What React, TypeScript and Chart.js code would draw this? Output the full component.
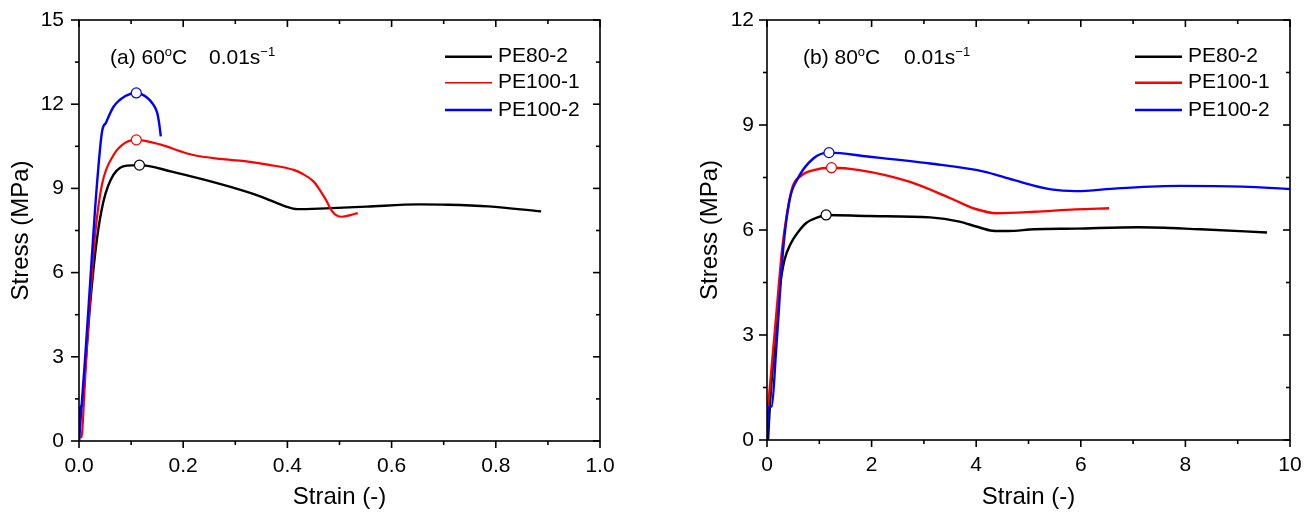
import React, { useEffect, useRef } from "react";
import { Chart, registerables } from "chart.js";

Chart.register(...registerables);

type Pt = [number, number];

// ---------- shared ----------
const seriesLabels = ["PE80-2", "PE100-1", "PE100-2"];
const seriesColors = ["#000000", "#ff0000", "#0000ff"];

// ---------- panel (a): 60°C, 0.01 s^-1 ----------
const aPE80_2: Pt[] = [
  [0, 0], [0.002, 1.15], [0.006, 1.28], [0.012, 2.6], [0.021, 4.79], [0.034, 7.13],
  [0.047, 8.54], [0.066, 9.48], [0.092, 9.81], [0.116, 9.83], [0.178, 9.6],
  [0.24, 9.31], [0.302, 8.99], [0.349, 8.71], [0.396, 8.36], [0.419, 8.26],
  [0.474, 8.29], [0.552, 8.35], [0.653, 8.43], [0.708, 8.42], [0.786, 8.36], [0.887, 8.18],
];
const aPE100_1: Pt[] = [
  [0.004, 0.1], [0.006, 0.3], [0.01, 1.6], [0.0148, 3.26], [0.0213, 5.02], [0.031, 7.37],
  [0.044, 9.13], [0.066, 10.18], [0.089, 10.63], [0.11, 10.73], [0.157, 10.56],
  [0.195, 10.32], [0.217, 10.2], [0.271, 10.05], [0.318, 9.97], [0.365, 9.84],
  [0.412, 9.66], [0.427, 9.54], [0.45, 9.25], [0.462, 8.95], [0.474, 8.59],
  [0.486, 8.18], [0.495, 8.03], [0.505, 7.99], [0.521, 8.05], [0.535, 8.12],
];
const aPE100_2: Pt[] = [
  [0, 0], [0.005, 1.27], [0.0116, 2.91], [0.0213, 5.61], [0.031, 8.31], [0.044, 11.0],
  [0.052, 11.35], [0.066, 11.9], [0.089, 12.29], [0.11, 12.4], [0.131, 12.23],
  [0.142, 12.0], [0.15, 11.7], [0.154, 11.3], [0.157, 10.85],
];
const aPeaks: Pt[] = [[0.116, 9.83], [0.11, 10.73], [0.11, 12.4]];
const aXTicks = [0, 0.2, 0.4, 0.6, 0.8, 1.0];
const aXTickLabels = ["0.0", "0.2", "0.4", "0.6", "0.8", "1.0"];
const aXMinor = [0.1, 0.3, 0.5, 0.7, 0.9];
const aYTicks = [0, 3, 6, 9, 12, 15];
const aYTickLabels = ["0", "3", "6", "9", "12", "15"];
const aYMinor = [1.5, 4.5, 7.5, 10.5, 13.5];

// ---------- panel (b): 80°C, 0.01 s^-1 ----------
const bPE80_2: Pt[] = [
  [0.02, 0], [0.06, 1.1], [0.15, 2.8], [0.24, 4.3], [0.334, 5.14], [0.45, 5.6],
  [0.6, 5.95], [0.75, 6.2], [0.97, 6.36], [1.13, 6.43], [1.93, 6.4],
  [3.12, 6.36], [3.68, 6.24], [4.0, 6.1], [4.31, 5.98], [4.6, 5.97], [5.11, 6.02],
  [5.9, 6.04], [7.1, 6.08], [8.29, 6.02], [9.56, 5.93],
];
const bPE100_1: Pt[] = [
  [0.02, 0.95], [0.06, 1.6], [0.175, 3.54], [0.29, 5.46], [0.37, 6.35], [0.49, 7.24],
  [0.65, 7.55], [0.89, 7.71], [1.233, 7.78], [1.77, 7.71], [2.72, 7.38], [3.52, 6.9],
  [3.99, 6.6], [4.39, 6.48], [5.11, 6.52], [5.9, 6.59], [6.54, 6.62],
];
const bPE100_2: Pt[] = [
  [0, 0], [0.03, 0.94], [0.09, 0.96], [0.175, 2.58], [0.31, 5.46], [0.43, 6.85],
  [0.573, 7.43], [0.891, 8.05], [1.185, 8.21], [1.925, 8.1], [3.12, 7.9], [4.15, 7.67],
  [4.71, 7.43], [5.43, 7.16], [5.9, 7.11], [6.7, 7.19], [7.89, 7.26], [9.09, 7.24], [10.0, 7.17],
];
const bPeaks: Pt[] = [[1.13, 6.43], [1.233, 7.78], [1.185, 8.21]];
const bXTicks = [0, 2, 4, 6, 8, 10];
const bXTickLabels = ["0", "2", "4", "6", "8", "10"];
const bXMinor = [1, 3, 5, 7, 9];
const bYTicks = [0, 3, 6, 9, 12];
const bYTickLabels = ["0", "3", "6", "9", "12"];
const bYMinor = [1.5, 4.5, 7.5, 10.5];

const FONT = '"Liberation Sans", Arial, Helvetica, sans-serif';

type PanelCfg = {
  series: Pt[][];
  peaks: Pt[];
  widths: number[];
  legendWidths: number[];
  xTicks: number[];
  xTickLabels: string[];
  xMinor: number[];
  yTicks: number[];
  yTickLabels: string[];
  yMinor: number[];
  xMax: number;
  yMax: number;
  note: { prefix: string; temp: string; rate: string; dx1: number; dx2: number };
  canvasLeft: number;
  canvasWidth: number;
  yAxisWidth: number;
  padRight: number;
  xAxisHeight: number;
  tickPad: number;
  yTitlePad: number;
};

const panelA: PanelCfg = {
  series: [aPE80_2, aPE100_1, aPE100_2],
  peaks: aPeaks,
  widths: [2.4, 2.2, 2.4],
  legendWidths: [2.4, 1.5, 2.4],
  xTicks: aXTicks,
  xTickLabels: aXTickLabels,
  xMinor: aXMinor,
  yTicks: aYTicks,
  yTickLabels: aYTickLabels,
  yMinor: aYMinor,
  xMax: 1,
  yMax: 15,
  note: { prefix: "(a) 60", temp: "C", rate: "0.01s", dx1: 31, dx2: 130 },
  canvasLeft: 0,
  canvasWidth: 660,
  yAxisWidth: 79,
  padRight: 60,
  xAxisHeight: 80,
  tickPad: 7,
  yTitlePad: 7,
};

const panelB: PanelCfg = {
  series: [bPE80_2, bPE100_1, bPE100_2],
  peaks: bPeaks,
  widths: [2.4, 2.4, 2.4],
  legendWidths: [2.4, 2.4, 2.4],
  xTicks: bXTicks,
  xTickLabels: bXTickLabels,
  xMinor: bXMinor,
  yTicks: bYTicks,
  yTickLabels: bYTickLabels,
  yMinor: bYMinor,
  xMax: 10,
  yMax: 12,
  note: { prefix: "(b) 80", temp: "C", rate: "0.01s", dx1: 36, dx2: 137 },
  canvasLeft: 660,
  canvasWidth: 651,
  yAxisWidth: 107,
  padRight: 21,
  xAxisHeight: 81,
  tickPad: 5,
  yTitlePad: 36,
};

function decorPlugin(cfg: PanelCfg) {
  return {
    id: "decor",
    afterDraw(chart: any) {
      const ctx: CanvasRenderingContext2D = chart.ctx;
      const { left, right, top, bottom } = chart.chartArea;
      const xs = chart.scales.x;
      const ys = chart.scales.y;
      const seg = (x1: number, y1: number, x2: number, y2: number) => {
        ctx.beginPath();
        ctx.moveTo(x1, y1);
        ctx.lineTo(x2, y2);
        ctx.stroke();
      };
      ctx.save();
      ctx.strokeStyle = "#000";
      ctx.lineWidth = 1.6;
      ctx.lineCap = "butt";
      // ticks
      const MAJ = 7;
      const MIN = 4;
      cfg.xTicks.forEach((v) => {
        const px = xs.getPixelForValue(v);
        seg(px, bottom, px, bottom + MAJ);
        seg(px, top, px, top + MAJ);
      });
      cfg.xMinor.forEach((v) => {
        const px = xs.getPixelForValue(v);
        seg(px, bottom, px, bottom + MIN);
        seg(px, top, px, top + MIN);
      });
      cfg.yTicks.forEach((v) => {
        const py = ys.getPixelForValue(v);
        seg(left - MAJ - 1, py, left, py);
        seg(right - MAJ, py, right, py);
      });
      cfg.yMinor.forEach((v) => {
        const py = ys.getPixelForValue(v);
        seg(left - MIN, py, left, py);
        seg(right - MIN, py, right, py);
      });
      // frame
      ctx.strokeRect(left, top, right - left, bottom - top);

      // legend
      const rows = [36.7, 62.7, 90];
      ctx.textBaseline = "middle";
      ctx.textAlign = "left";
      ctx.fillStyle = "#000";
      ctx.font = `21px ${FONT}`;
      seriesLabels.forEach((lab, i) => {
        const y = top + rows[i];
        ctx.strokeStyle = seriesColors[i];
        ctx.lineWidth = cfg.legendWidths[i];
        seg(right - 155, y, right - 108, y);
        ctx.fillText(lab, right - 102, y);
      });

      // annotation with superscripts
      const base = top + 44;
      ctx.textBaseline = "alphabetic";
      const drawParts = (x: number, parts: { t: string; sup?: boolean }[]) => {
        let cx = x;
        parts.forEach((p) => {
          ctx.font = p.sup ? `13px ${FONT}` : `21px ${FONT}`;
          ctx.fillText(p.t, cx, p.sup ? base - 8 : base);
          cx += ctx.measureText(p.t).width;
        });
      };
      drawParts(left + cfg.note.dx1, [
        { t: cfg.note.prefix },
        { t: "o", sup: true },
        { t: cfg.note.temp },
      ]);
      drawParts(left + cfg.note.dx2, [
        { t: cfg.note.rate },
        { t: "\u22121", sup: true },
      ]);
      ctx.restore();
    },
  };
}

function Panel({ cfg }: { cfg: PanelCfg }) {
  const ref = useRef<HTMLCanvasElement>(null);
  useEffect(() => {
    if (!ref.current) return;
    const orders = [2, 1, 0];
    const lineSets = cfg.series.map((pts, i) => ({
      type: "line" as const,
      label: seriesLabels[i],
      data: pts.map(([x, y]) => ({ x, y })),
      borderColor: seriesColors[i],
      backgroundColor: seriesColors[i],
      borderWidth: cfg.widths[i],
      pointRadius: 0,
      pointHoverRadius: 0,
      cubicInterpolationMode: "monotone" as const,
      fill: false,
      order: orders[i],
    }));
    const peakSets = cfg.peaks.map(([x, y], i) => ({
      type: "line" as const,
      label: seriesLabels[i] + " yield",
      data: [{ x, y }],
      showLine: false,
      borderColor: seriesColors[i],
      pointRadius: 5,
      pointBorderWidth: 1.2,
      pointBackgroundColor: "#ffffff",
      pointBorderColor: seriesColors[i],
      order: -1,
    }));
    const tickFont = { family: FONT, size: 21 };
    const titleFont = { family: FONT, size: 24, lineHeight: 1.2 };
    const chart = new Chart(ref.current, {
      type: "line",
      data: { datasets: [...lineSets, ...peakSets] as any },
      options: {
        responsive: false,
        animation: false,
        devicePixelRatio: 1,
        layout: { padding: { left: 0, top: 20, right: cfg.padRight, bottom: 0 } },
        plugins: { legend: { display: false }, tooltip: { enabled: false } },
        events: [],
        scales: {
          x: {
            type: "linear",
            min: 0,
            max: cfg.xMax,
            afterBuildTicks: (s: any) => {
              s.ticks = cfg.xTicks.map((v) => ({ value: v }));
            },
            afterFit: (s: any) => {
              s.height = cfg.xAxisHeight;
            },
            ticks: {
              callback: (v: any) => {
                const k = cfg.xTicks.findIndex((t) => Math.abs(t - Number(v)) < 1e-9);
                return k >= 0 ? cfg.xTickLabels[k] : "";
              },
              font: tickFont,
              color: "#000",
              padding: 6,
              maxRotation: 0,
              autoSkip: false,
            },
            grid: {
              display: true,
              drawOnChartArea: false,
              drawTicks: true,
              tickLength: 7,
              color: "rgba(0,0,0,0)",
            },
            border: { display: false },
            title: {
              display: true,
              text: "Strain (-)",
              font: titleFont,
              color: "#000",
              padding: { top: 0, bottom: 9 },
            },
          },
          y: {
            type: "linear",
            min: 0,
            max: cfg.yMax,
            afterBuildTicks: (s: any) => {
              s.ticks = cfg.yTicks.map((v) => ({ value: v }));
            },
            afterFit: (s: any) => {
              s.width = cfg.yAxisWidth;
            },
            ticks: {
              callback: (v: any) => {
                const k = cfg.yTicks.findIndex((t) => Math.abs(t - Number(v)) < 1e-9);
                return k >= 0 ? cfg.yTickLabels[k] : "";
              },
              font: tickFont,
              color: "#000",
              padding: cfg.tickPad,
              autoSkip: false,
            },
            grid: {
              display: true,
              drawOnChartArea: false,
              drawTicks: true,
              tickLength: 8,
              color: "rgba(0,0,0,0)",
            },
            border: { display: false },
            title: {
              display: true,
              text: "Stress (MPa)",
              font: titleFont,
              color: "#000",
              padding: { top: cfg.yTitlePad, bottom: 0 },
            },
          },
        },
      } as any,
      plugins: [decorPlugin(cfg)],
    });
    return () => chart.destroy();
  }, [cfg]);
  return (
    <canvas
      ref={ref}
      width={cfg.canvasWidth}
      height={521}
      style={{
        position: "absolute",
        left: cfg.canvasLeft,
        top: 0,
        width: cfg.canvasWidth,
        height: 521,
      }}
    />
  );
}

export default function App() {
  return (
    <div
      style={{
        position: "absolute",
        left: 0,
        top: 0,
        width: 1311,
        height: 521,
        background: "#ffffff",
        overflow: "hidden",
      }}
    >
      <Panel cfg={panelA} />
      <Panel cfg={panelB} />
    </div>
  );
}
